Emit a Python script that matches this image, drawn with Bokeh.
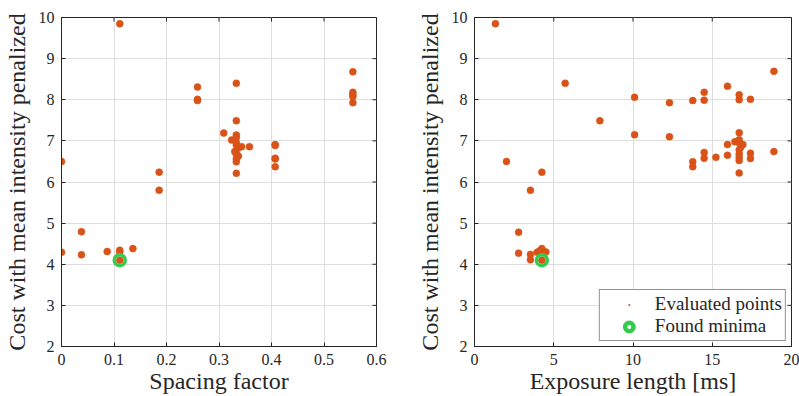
import math
from bokeh.plotting import figure
from bokeh.layouts import row
from bokeh.models import FixedTicker, Range1d, Legend, LegendItem
from bokeh.embed import file_html
from bokeh.resources import INLINE

# ---------------- data ----------------
spacing_factor = [0.111, 0.0, 0.555, 0.555, 0.555, 0.555, 0.555,
                  0.259, 0.259, 0.259, 0.333, 0.333, 0.309, 0.324,
                  0.333, 0.333, 0.333, 0.333, 0.336, 0.330, 0.333, 0.337, 0.333, 0.333, 0.333,
                  0.343, 0.358, 0.407, 0.407, 0.407, 0.407, 0.407,
                  0.186, 0.186,
                  0.038, 0.0, 0.038, 0.087, 0.111, 0.111, 0.136, 0.111]
spacing_cost = [9.85, 6.50, 8.68, 8.18, 8.13, 8.08, 7.93,
                8.31, 8.01, 7.98, 8.40, 7.49, 7.19, 7.02,
                7.14, 7.08, 6.96, 6.90, 6.82, 6.74, 6.68, 6.63, 6.56, 6.49, 6.21,
                6.86, 6.86, 6.91, 6.89, 6.58, 6.56, 6.37,
                6.24, 5.80,
                4.79, 4.29, 4.23, 4.31, 4.34, 4.30, 4.38, 4.10]

exposure_ms = [1.32, 2.02, 4.25, 3.53, 5.72, 7.91, 10.1, 10.1, 12.3, 12.3,
               13.77, 13.77, 13.77, 14.49, 14.49, 14.49, 14.49, 15.23,
               15.96, 15.96, 15.96, 16.70, 16.70, 16.70, 16.43, 16.70, 16.93,
               16.70, 16.80, 16.70, 16.70, 16.70, 16.70, 16.70,
               17.41, 17.41, 17.41, 18.89, 18.89,
               2.78, 2.78, 3.53, 3.53, 3.95, 4.10, 4.25, 4.25, 4.50, 4.25]
exposure_cost = [9.85, 6.50, 6.24, 5.80, 8.40, 7.49, 8.06, 7.15, 7.93, 7.10,
                 7.98, 6.49, 6.37, 8.18, 7.99, 6.72, 6.58, 6.60,
                 8.33, 6.91, 6.65, 8.12, 8.00, 7.20, 6.98, 7.03, 6.91,
                 6.95, 6.85, 6.78, 6.68, 6.60, 6.52, 6.22,
                 8.01, 6.70, 6.57, 8.69, 6.74,
                 4.78, 4.27, 4.24, 4.11, 4.29, 4.32, 4.38, 4.33, 4.30, 4.10]

min_spacing = [0.111]
min_exposure = [4.25]
min_cost = [4.10]

x1_ticks = [0, 0.1, 0.2, 0.3, 0.4, 0.5, 0.6]
x2_ticks = [0, 5, 10, 15, 20]
y_ticks = [2, 3, 4, 5, 6, 7, 8, 9, 10]
Y_RANGE = (2, 10)

ORANGE = "#D95319"
GREEN = "#33CC4C"
DARK = "#262626"
FONT = "Liberation Serif"


def make_fig(width, bl, br, xr, xticks, xlabel):
    p = figure(width=width, height=396, x_range=Range1d(*xr), y_range=Range1d(*Y_RANGE),
               output_backend="svg", toolbar_location=None,
               min_border_left=bl, min_border_right=br, min_border_top=17, min_border_bottom=50)
    p.xaxis.ticker = FixedTicker(ticks=xticks)
    p.yaxis.ticker = FixedTicker(ticks=y_ticks)
    for ax in (p.xaxis[0], p.yaxis[0]):
        ax.major_tick_in = 4
        ax.major_tick_out = 0
        ax.minor_tick_in = 0
        ax.minor_tick_out = 0
        ax.axis_line_color = DARK
        ax.major_tick_line_color = DARK
        ax.major_label_text_font = FONT
        ax.major_label_text_font_size = "16px"
        ax.major_label_text_color = DARK
        ax.axis_label_text_font = FONT
        ax.axis_label_text_font_size = "24px"
        ax.axis_label_text_font_style = "normal"
        ax.axis_label_text_color = DARK
    p.xaxis.axis_label = xlabel
    p.yaxis.axis_label = "Cost with mean intensity penalized"
    p.xaxis.major_label_standoff = 7
    p.yaxis.major_label_standoff = 7
    p.xaxis.axis_label_standoff = 0
    p.yaxis.axis_label_standoff = 6
    # mirrored inward ticks on the right and top edges (box on)
    p.ray(x=[xr[1]] * len(y_ticks), y=y_ticks, length=4, length_units="screen",
          angle=math.pi, line_color=DARK, line_width=1)
    p.ray(x=xticks, y=[Y_RANGE[1]] * len(xticks), length=4, length_units="screen",
          angle=-math.pi / 2, line_color=DARK, line_width=1)
    p.outline_line_color = DARK
    p.outline_line_alpha = 1.0
    p.outline_line_width = 1
    p.xgrid.ticker = FixedTicker(ticks=xticks)
    p.ygrid.ticker = FixedTicker(ticks=y_ticks)
    p.grid.grid_line_color = "#dedede"
    p.grid.grid_line_alpha = 1.0
    p.background_fill_color = "white"
    p.border_fill_color = "white"
    return p


p1 = make_fig(408, 59, 32, (0, 0.6), x1_ticks, "Spacing factor")
p1.scatter(x=spacing_factor, y=spacing_cost, marker="circle", size=7,
           fill_color=ORANGE, line_color=ORANGE, line_width=0.5)
p1.scatter(x=min_spacing, y=min_cost, marker="circle", size=11,
           fill_color=None, line_color=GREEN, line_width=3.5)

p2 = make_fig(391, 66, 8, (0, 20), x2_ticks, "Exposure length [ms]")
p2.scatter(x=exposure_ms, y=exposure_cost, marker="circle", size=7,
           fill_color=ORANGE, line_color=ORANGE, line_width=0.5)
p2.scatter(x=min_exposure, y=min_cost, marker="circle", size=11,
           fill_color=None, line_color=GREEN, line_width=3.5)

# legend-only (hidden) renderers, so the legend markers can be styled like the reference
r_eval = p2.scatter(x=exposure_ms, y=exposure_cost, marker="dot", size=10,
                    line_color=ORANGE, fill_color=ORANGE, line_width=3, visible=False)
r_min = p2.scatter(x=min_exposure, y=min_cost, marker="circle", size=8, fill_color=None,
                   line_color=GREEN, line_width=4.5, visible=False)
legend = Legend(items=[LegendItem(label="Evaluated points", renderers=[r_eval]),
                       LegendItem(label="Found minima", renderers=[r_min])],
                location="bottom_right", click_policy="none")
legend.glyph_width = 52
legend.glyph_height = 21
legend.label_height = 21
legend.padding = 3
legend.spacing = 0
legend.margin = 5
legend.label_standoff = 0
legend.label_text_font = FONT
legend.label_text_font_size = "19px"
legend.label_text_color = DARK
legend.border_line_color = DARK
legend.border_line_width = 1
legend.background_fill_color = "white"
legend.background_fill_alpha = 1.0
p2.add_layout(legend, "center")

layout = row(p1, p2)
open("out.html", "w").write(file_html(layout, INLINE))
